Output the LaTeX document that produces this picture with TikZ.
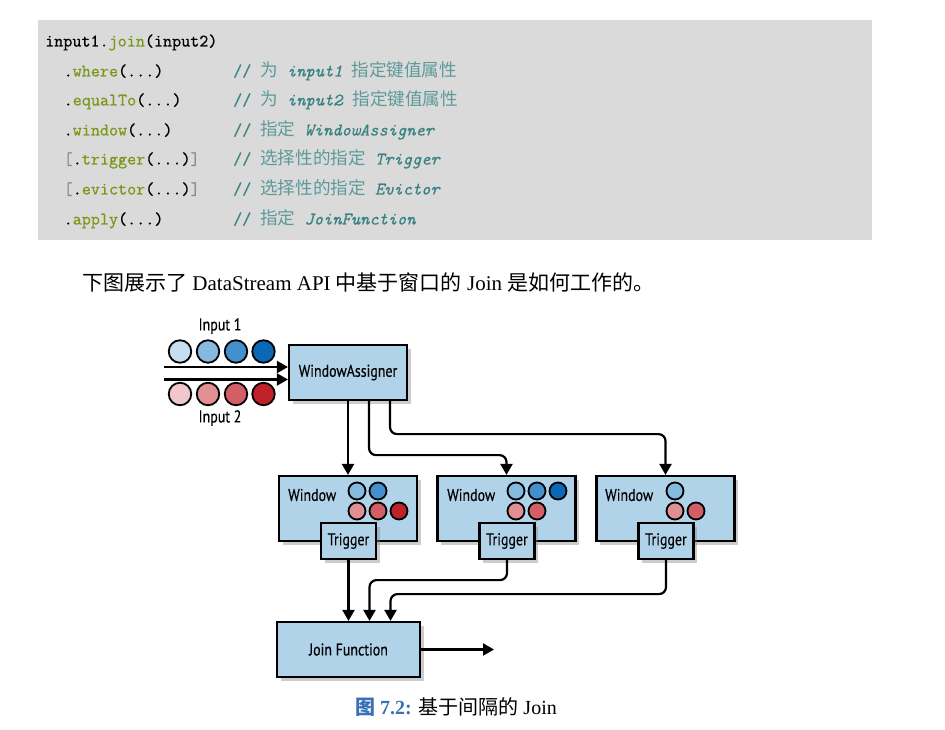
\documentclass[tikz,border=0pt]{standalone}
\usepackage{fontspec}
\usetikzlibrary{shadows,arrows.meta}
\setmonofont[FakeBold=0.6]{Latin Modern Mono}
\newfontfamily\cjk{Noto Sans CJK SC}
\newfontfamily\tnr{Liberation Serif}
\newfontfamily\dgf[FakeStretch=0.82,FakeBold=0.4]{PT Sans}
\definecolor{codebg}{HTML}{DADADA}
\definecolor{kwc}{HTML}{7A9618}
\definecolor{cmc}{HTML}{3A8282}
\definecolor{zhc}{HTML}{5E9A9A}
\definecolor{brc}{HTML}{8A8A8A}
\definecolor{boxc}{HTML}{B0D3EA}
\definecolor{capc}{HTML}{3B6FB6}
\definecolor{bA}{HTML}{C5DEF0}
\definecolor{bB}{HTML}{86B9DE}
\definecolor{bC}{HTML}{4390CC}
\definecolor{bD}{HTML}{0A68B4}
\definecolor{rA}{HTML}{F0C8CB}
\definecolor{rB}{HTML}{E08F95}
\definecolor{rC}{HTML}{D35E66}
\definecolor{rD}{HTML}{BE2129}
\newcommand\kw[1]{\textcolor{kwc}{#1}}
\newcommand\zh[1]{{\cjk\color{zhc}#1}}
\newcommand\br[1]{\textcolor{brc}{#1}}
\begin{document}
\begin{tikzpicture}[x=1pt,y=-1pt,
  code/.style={inner sep=0pt, anchor=base west, font=\ttfamily\fontsize{17.6}{20}\selectfont},
  cmt/.style={code, text=cmc},
  box/.style={draw=black, line width=2.2pt, fill=boxc, inner sep=0pt,
    drop shadow={shadow xshift=3.5pt, shadow yshift=-3.5pt, opacity=0.4},
    font=\dgf\fontsize{17}{19}\selectfont},
  lbl/.style={inner sep=0pt, font=\dgf\fontsize{17}{19}\selectfont},
  arr/.style={line width=2.2pt, -{Triangle[length=11pt,width=12pt]}},
  conn/.style={arr, rounded corners=7pt},
  ball/.style={circle, draw=black, line width=1.8pt, inner sep=0pt, minimum size=#1},
]
\useasboundingbox (0,0) rectangle (945,730);
\fill[white] (0,0) rectangle (945,730);
% code block
\fill[codebg] (38,20) rectangle (872,240);
\node[code] (l1) at (45,46.5) {input1.\kw{join}(input2)};
\node[code] (l2) at (63.5,76.5) {.\kw{where}(...)};
\node[code] (l3) at (63.5,105.5) {.\kw{equalTo}(...)};
\node[code] (l4) at (63.5,135.5) {.\kw{window}(...)};
\node[code] (l5) at (63.5,164.5) {\br{[}.\kw{trigger}(...)\br{]}};
\node[code] (l6) at (63.5,194.5) {\br{[}.\kw{evictor}(...)\br{]}};
\node[code] (l7) at (63.5,224.5) {.\kw{apply}(...)};
\node[cmt] (c2) at (233,76.5) {// \zh{为} \textit{input1} \zh{指定键值属性}};
\node[cmt] (c3) at (233,105.5) {// \zh{为} \textit{input2} \zh{指定键值属性}};
\node[cmt] (c4) at (233,135.5) {// \zh{指定} \textit{WindowAssigner}};
\node[cmt] (c5) at (233,164.5) {// \zh{选择性的指定} \textit{Trigger}};
\node[cmt] (c6) at (233,194.5) {// \zh{选择性的指定} \textit{Evictor}};
\node[cmt] (c7) at (233,224.5) {// \zh{指定} \textit{JoinFunction}};
% sentence
\node[inner sep=0pt, anchor=west, font=\tnr\fontsize{21}{24}\selectfont] (sent) at (82,282)
  {{\cjk 下图展示了} DataStream API {\cjk 中基于窗口的} Join {\cjk 是如何工作的。}};
% diagram
\node[lbl] (in1) at (220,326) {Input 1};
\node[lbl] (in2) at (220,418) {Input 2};
\node[ball=22.5pt, fill=bA] (p1) at (180,351.5) {};
\node[ball=22.5pt, fill=bB] (p2) at (208,351.5) {};
\node[ball=22.5pt, fill=bC] (p3) at (236,351.5) {};
\node[ball=22.5pt, fill=bD] (p4) at (263.5,351.5) {};
\node[ball=22.5pt, fill=rA] (q1) at (180,394) {};
\node[ball=22.5pt, fill=rB] (q2) at (208,394) {};
\node[ball=22.5pt, fill=rC] (q3) at (236,394) {};
\node[ball=22.5pt, fill=rD] (q4) at (263.5,394) {};
\node[box, minimum width=118pt, minimum height=55pt] (wa) at (348,372.5) {WindowAssigner};
\coordinate (s1) at (164,367);
\coordinate (s2) at (164,379.5);
\draw[arr] (s1) -- (wa.west |- s1);
\draw[arr] (s2) -- (wa.west |- s2);
% windows
\node[box, minimum width=138pt, minimum height=65pt] (w1) at (348,508.5) {};
\node[box, minimum width=138pt, minimum height=65pt] (w2) at (506.5,508.5) {};
\node[box, minimum width=138pt, minimum height=65pt] (w3) at (665.5,508.5) {};
\node[lbl, anchor=west] (w1l) at (288,495) {Window};
\node[lbl, anchor=west] (w2l) at (447,495) {Window};
\node[lbl, anchor=west] (w3l) at (605,495) {Window};
\node[ball=17pt, fill=bB] (a1) at (357,491) {};
\node[ball=17pt, fill=bC] (a2) at (378,491) {};
\node[ball=17pt, fill=rB] (a3) at (357,511) {};
\node[ball=17pt, fill=rC] (a4) at (378,511) {};
\node[ball=17pt, fill=rD] (a5) at (399,511) {};
\node[ball=17pt, fill=bB] (b1) at (516,491) {};
\node[ball=17pt, fill=bC] (b2) at (537,491) {};
\node[ball=17pt, fill=bD] (b3) at (558,491) {};
\node[ball=17pt, fill=rB] (b4) at (516,511) {};
\node[ball=17pt, fill=rC] (b5) at (537,511) {};
\node[ball=17pt, fill=bB] (d1) at (675,491) {};
\node[ball=17pt, fill=rB] (d2) at (675,511) {};
\node[ball=17pt, fill=rC] (d3) at (696,511) {};
\node[box, minimum width=55pt, minimum height=36pt] (t1) at (348.5,541) {Trigger};
\node[box, minimum width=55pt, minimum height=36pt] (t2) at (507,541) {Trigger};
\node[box, minimum width=55pt, minimum height=36pt] (t3) at (666,541) {Trigger};
\node[box, minimum width=143pt, minimum height=55pt] (jf) at (348.5,649.5) {Join Function};
% connectors
\draw[arr] (wa.south) -- (w1.north);
\draw[conn] ([xshift=21pt]wa.south) -- ++(0,54) -| (w2.north);
\draw[conn] ([xshift=42pt]wa.south) -- ++(0,33) -| (w3.north);
\draw[arr] (t1.south) -- (t1.south |- jf.north);
\draw[conn] (t2.south) -- ++(0,20) -| ([xshift=21pt]jf.north);
\draw[conn] (t3.south) -- ++(0,34) -| ([xshift=42pt]jf.north);
\coordinate (out) at (494,649.5);
\draw[arr] (jf.east) -- (out);
% caption
\node[inner sep=0pt, font=\tnr\fontsize{20}{24}\selectfont] (cap) at (456,707)
  {\textcolor{capc}{{\cjk\bfseries 图} \textbf{7.2:}} {\cjk 基于间隔的} Join};
\end{tikzpicture}
\end{document}
